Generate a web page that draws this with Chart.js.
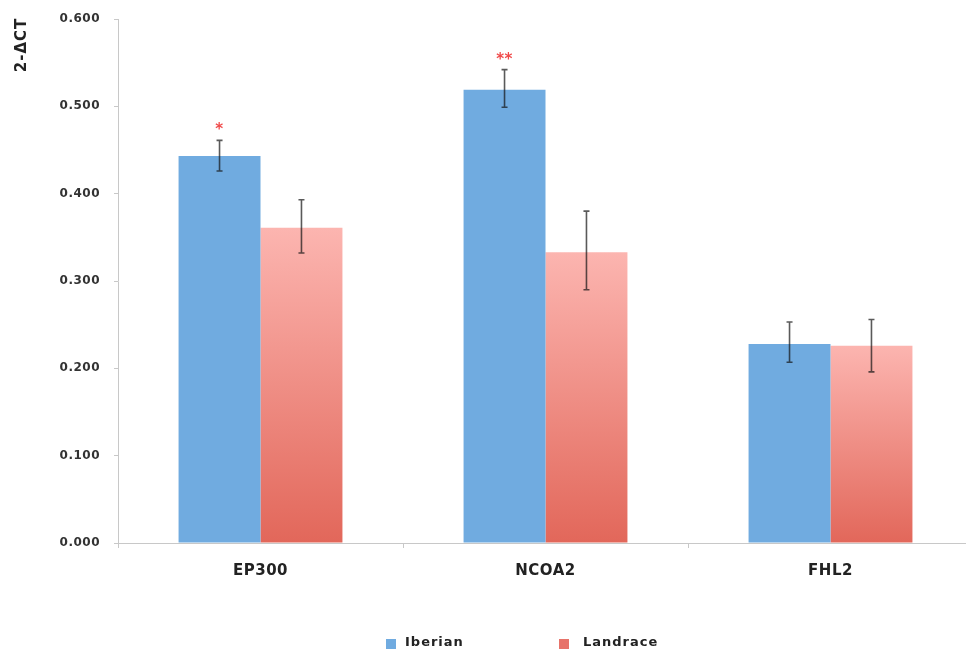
<!DOCTYPE html>
<html>
<head>
<meta charset="utf-8">
<script src="https://cdn.jsdelivr.net/npm/chart.js@4.4.1/dist/chart.umd.min.js"></script>
<style>
html,body{margin:0;padding:0;background:#fff;overflow:hidden;}
#wrap{position:absolute;left:0;top:0;width:975px;height:652px;}
</style>
</head>
<body>
<div id="wrap"><canvas id="c" width="975" height="652"></canvas></div>
<script>
const categories = ['EP300', 'NCOA2', 'FHL2'];
const seriesNames = ['Iberian', 'Landrace'];
const iberian = [0.443, 0.519, 0.228];
const landrace = [0.361, 0.333, 0.226];
const iberianErrLow = [0.426, 0.499, 0.207];
const iberianErrHigh = [0.461, 0.542, 0.253];
const landraceErrLow = [0.332, 0.290, 0.196];
const landraceErrHigh = [0.393, 0.380, 0.256];
const iberianMarks = ['*', '**', ''];
const yTicks = [0, 0.1, 0.2, 0.3, 0.4, 0.5, 0.6];
const yTitle = '2-ΔCT';

const FONT = '"DejaVu Sans", "Liberation Sans", Arial, sans-serif';
const BLUE = '#70abe0';
const SPACING = '0.5px';

function landraceFill(ctx) {
  const chart = ctx.chart;
  const y = chart.scales && chart.scales.y;
  if (!y || ctx.type !== 'data') return '#ee8a80';
  const v = ctx.raw;
  const top = y.getPixelForValue(v);
  const bot = y.getPixelForValue(0);
  if (!isFinite(top) || !isFinite(bot) || top === bot) return '#ee8a80';
  const g = chart.ctx.createLinearGradient(0, top, 0, bot);
  g.addColorStop(0, '#fcb5b0');
  g.addColorStop(1, '#e2675a');
  return g;
}

const errors = [[iberianErrLow, iberianErrHigh], [landraceErrLow, landraceErrHigh]];

const extras = {
  id: 'extras',
  beforeDraw(chart) {
    chart.ctx.letterSpacing = SPACING;
  },
  afterDatasetsDraw(chart) {
    const ctx = chart.ctx;
    const y = chart.scales.y;
    ctx.save();
    ctx.letterSpacing = '0px';
    chart.data.datasets.forEach((ds, di) => {
      const meta = chart.getDatasetMeta(di);
      meta.data.forEach((bar, i) => {
        const x = bar.x;
        const lo = y.getPixelForValue(errors[di][0][i]);
        const hi = y.getPixelForValue(errors[di][1][i]);
        ctx.strokeStyle = 'rgba(20,20,20,0.7)';
        ctx.lineWidth = 1.6;
        ctx.beginPath();
        ctx.moveTo(x, lo); ctx.lineTo(x, hi);
        ctx.moveTo(x - 3, lo); ctx.lineTo(x + 3, lo);
        ctx.moveTo(x - 3, hi); ctx.lineTo(x + 3, hi);
        ctx.stroke();
        if (di === 0 && iberianMarks[i]) {
          ctx.fillStyle = '#f04a4a';
          ctx.font = 'bold 15px ' + FONT;
          ctx.letterSpacing = '0.5px';
          ctx.textAlign = 'center';
          ctx.textBaseline = 'middle';
          ctx.fillText(iberianMarks[i], x, hi - 10);
          ctx.letterSpacing = '0px';
        }
      });
    });
    ctx.restore();
  },
  afterDraw(chart) {
    const ctx = chart.ctx;
    // y title
    ctx.save();
    ctx.letterSpacing = '1px';
    ctx.fillStyle = '#222';
    ctx.font = 'bold 15px ' + FONT;
    ctx.translate(22, 45);
    ctx.rotate(-Math.PI / 2);
    ctx.textAlign = 'center';
    ctx.textBaseline = 'middle';
    ctx.fillText(yTitle, 0, 0);
    ctx.restore();
    // legend
    ctx.save();
    ctx.letterSpacing = '1px';
    ctx.font = 'bold 13px ' + FONT;
    ctx.textBaseline = 'middle';
    ctx.textAlign = 'left';
    const legendY = 643;
    const items = [{x: 386, tx: 405, c: BLUE, t: seriesNames[0]}, {x: 559, tx: 583, c: '#e7736a', t: seriesNames[1]}];
    items.forEach(it => {
      ctx.fillStyle = it.c;
      ctx.fillRect(it.x, legendY - 4, 10, 10);
      ctx.fillStyle = '#222';
      ctx.fillText(it.t, it.tx, legendY);
    });
    ctx.restore();
  }
};

new Chart(document.getElementById('c'), {
  type: 'bar',
  data: {
    labels: categories,
    datasets: [
      {label: seriesNames[0], data: iberian, backgroundColor: BLUE, borderWidth: 0,
       categoryPercentage: 0.575, barPercentage: 1.0},
      {label: seriesNames[1], data: landrace, backgroundColor: landraceFill, borderWidth: 0,
       categoryPercentage: 0.575, barPercentage: 1.0}
    ]
  },
  options: {
    responsive: false,
    animation: false,
    devicePixelRatio: 1,
    layout: {padding: {top: 19, right: 2, bottom: 59, left: 0}},
    plugins: {legend: {display: false}, tooltip: {enabled: false}},
    scales: {
      x: {
        grid: {drawOnChartArea: false, offset: true, tickLength: 5, color: '#c8c8c8'},
        border: {color: '#c8c8c8', width: 1},
        ticks: {color: '#222', font: {family: FONT, size: 15, weight: 'bold'}, padding: 14},
        afterFit(s) { s.height = 50; s.paddingLeft = 0; s.paddingRight = 0; }
      },
      y: {
        min: 0, max: 0.6,
        afterBuildTicks(s) { s.ticks = yTicks.map(v => ({value: v})); },
        grid: {drawOnChartArea: false, tickLength: 4, color: '#c8c8c8'},
        border: {color: '#c8c8c8', width: 1},
        ticks: {color: '#333', font: {family: FONT, size: 12, weight: 'bold'}, padding: 14,
                callback: v => Number(v).toFixed(3)},
        afterFit(s) { s.width = 118; s.paddingTop = 0; s.paddingBottom = 0; }
      }
    }
  },
  plugins: [extras]
});
</script>
</body>
</html>
